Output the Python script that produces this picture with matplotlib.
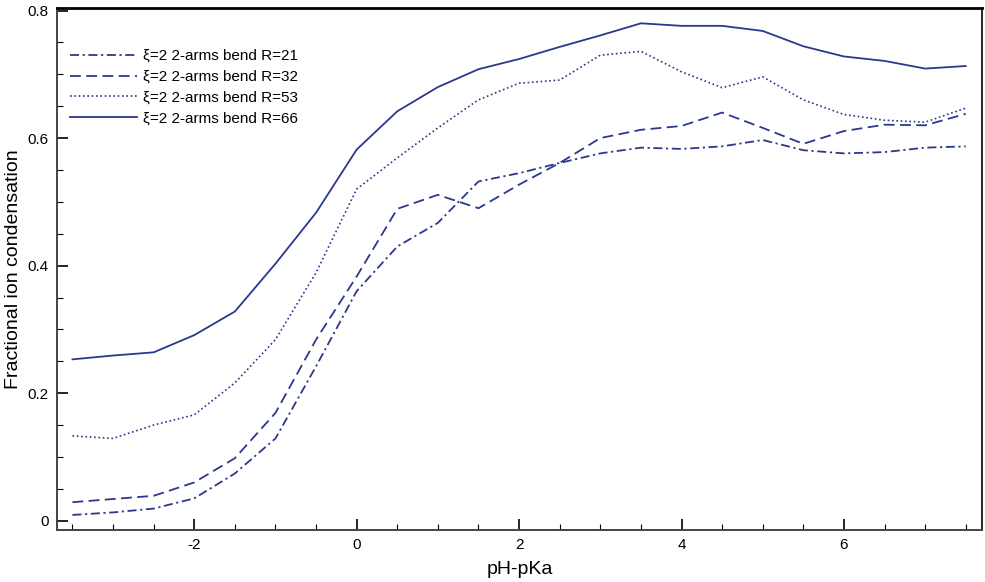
import numpy as np
import matplotlib
matplotlib.use("Agg")
import matplotlib.pyplot as plt
from matplotlib.ticker import MultipleLocator

plt.rcParams["font.family"] = ["Liberation Sans", "DejaVu Sans"]
plt.rcParams["axes.unicode_minus"] = False

# pH - pKa sample points
ph = [-3.5, -3.0, -2.5, -2.0, -1.5, -1.0, -0.5, 0.0, 0.5, 1.0, 1.5, 2.0,
      2.5, 3.0, 3.5, 4.0, 4.5, 5.0, 5.5, 6.0, 6.5, 7.0, 7.5]

# fractional ion condensation
r21 = [0.009, 0.013, 0.019, 0.035, 0.074, 0.129, 0.242, 0.360, 0.430, 0.467,
       0.532, 0.545, 0.561, 0.576, 0.585, 0.583, 0.587, 0.597, 0.581, 0.576,
       0.578, 0.585, 0.587]
r32 = [0.029, 0.034, 0.039, 0.060, 0.098, 0.169, 0.284, 0.383, 0.489, 0.511,
       0.490, 0.527, 0.561, 0.600, 0.613, 0.619, 0.640, 0.616, 0.591, 0.611,
       0.621, 0.620, 0.638]
r53 = [0.133, 0.129, 0.150, 0.166, 0.216, 0.284, 0.389, 0.520, 0.569, 0.616,
       0.660, 0.686, 0.691, 0.730, 0.736, 0.704, 0.679, 0.696, 0.660, 0.637,
       0.628, 0.625, 0.647]
r66 = [0.253, 0.259, 0.264, 0.291, 0.328, 0.403, 0.483, 0.582, 0.642, 0.680,
       0.708, 0.724, 0.743, 0.761, 0.780, 0.776, 0.776, 0.768, 0.744, 0.728,
       0.721, 0.709, 0.713]

labels = ["ξ=2 2-arms bend R=21", "ξ=2 2-arms bend R=32",
          "ξ=2 2-arms bend R=53", "ξ=2 2-arms bend R=66"]

COLOR = "#2a388e"

fig = plt.figure(figsize=(9.85, 5.82), dpi=100)
ax = fig.add_axes([57 / 985, 1 - 530 / 582, 925 / 985, 522 / 582])

ax.plot(ph, r21, color=COLOR, lw=1.3, dashes=(5, 2, 1.2, 2), label=labels[0])
ax.plot(ph, r32, color=COLOR, lw=1.3, dashes=(6, 3), label=labels[1])
ax.plot(ph, r53, color=COLOR, lw=1.2, dashes=(1, 1.6), label=labels[2])
ax.plot(ph, r66, color=COLOR, lw=1.3, label=labels[3])

ax.set_xlim(-3.69, 7.70)
ax.set_ylim(-0.0146, 0.804)
ax.xaxis.set_major_locator(MultipleLocator(2))
ax.xaxis.set_minor_locator(MultipleLocator(0.5))
ax.yaxis.set_minor_locator(MultipleLocator(0.05))
ax.set_yticks([0, 0.2, 0.4, 0.6, 0.8])
ax.set_yticklabels(["0", "0.2", "0.4", "0.6", "0.8"])
ax.tick_params(which="major", direction="in", length=8, width=1.2,
               labelsize=11, top=False, right=False)
ax.tick_params(axis="x", which="major", pad=6)
ax.tick_params(axis="y", which="major", pad=6)
ax.tick_params(which="minor", direction="in", length=4, width=0.8,
               top=False, right=False)
for side in ["left", "bottom"]:
    ax.spines[side].set_linewidth(1.4)
    ax.spines[side].set_color("#444444")
ax.spines["top"].set_linewidth(2.0)
ax.spines["right"].set_linewidth(1.2)

ax.set_xlabel("pH-pKa", fontsize=14, labelpad=6)
ax.set_ylabel("Fractional ion condensation", fontsize=14, labelpad=4)

ax.legend(loc="upper left", bbox_to_anchor=(70 / 985, 1 - 49 / 582),
          bbox_transform=fig.transFigure, frameon=False, fontsize=11,
          handlelength=4.4, handletextpad=0.35, labelspacing=0.45,
          borderpad=0, borderaxespad=0)

fig.savefig("out.png", dpi=100)
